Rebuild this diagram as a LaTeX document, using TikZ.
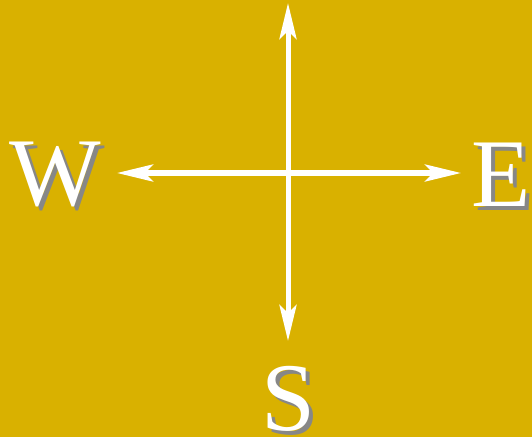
\documentclass[tikz,border=0pt]{standalone}
\usepackage{fontspec}
\setmainfont{Liberation Serif}
\usetikzlibrary{arrows.meta}
\definecolor{bgc}{RGB}{217,177,0}
\definecolor{shadowc}{RGB}{135,135,135}
\begin{document}
\begin{tikzpicture}[x=1pt,y=1pt,
  arr/.style={draw=white,line width=5pt,-{Stealth[length=36pt,width=17pt,inset=8pt]}},
  letter/.style={inner sep=0pt,font=\fontsize{97}{97}\selectfont},
  shade/.style={letter,text=shadowc},
  front/.style={letter,text=white}]
\fill[bgc] (0,0) rectangle (532,437);
\useasboundingbox (0,0) rectangle (532,437);
\coordinate (c) at (288,264);
\coordinate (n) at (288,434);
\coordinate (s) at (288,96);
\coordinate (w) at (117,264);
\coordinate (e) at (461,264);
\draw[arr] (c) -- (n);
\draw[arr] (c) -- (s);
\draw[arr] (c) -- (w);
\draw[arr] (c) -- (e);
\node[shade] (wsh) at (59,259) {W};
\node[front] (wl) at (55,263) {W};
\node[shade] (esh) at (505,258) {E};
\node[front] (el) at (501,262) {E};
\node[shade] (ssh) at (292,34) {S};
\node[front] (sl) at (288,38) {S};
\end{tikzpicture}
\end{document}
